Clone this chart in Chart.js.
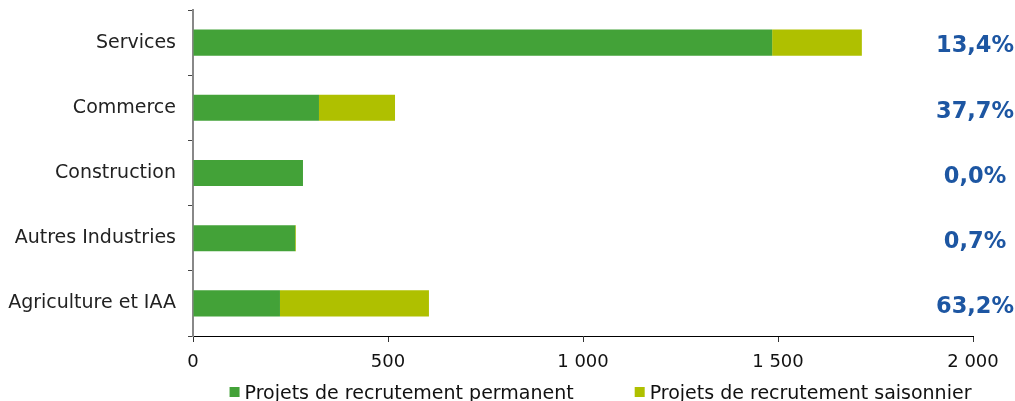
<!DOCTYPE html>
<html>
<head>
<meta charset="utf-8">
<script src="https://cdn.jsdelivr.net/npm/chart.js@4"></script>
<style>
  html, body { margin: 0; padding: 0; background: #fff; overflow: hidden; }
  #wrap { width: 1015px; height: 401px; position: relative; }
</style>
</head>
<body>
<div id="wrap"><canvas id="chart"></canvas></div>
<script>
const categories = ["Services", "Commerce", "Construction", "Autres Industries", "Agriculture et IAA"];
const permanent = [1485, 323, 282, 262, 223];
const saisonnier = [230, 195, 0, 2, 382];
const shareLabels = ["13,4%", "37,7%", "0,0%", "0,7%", "63,2%"];

// pourcentages a droite + legende en bas
const extras = {
  id: "extras",
  afterDraw(chart) {
    const ctx = chart.ctx;
    const y = chart.scales.y;
    ctx.save();
    ctx.font = "bold 22.5px 'DejaVu Sans'";
    ctx.fillStyle = "#1d56a2";
    ctx.textAlign = "center";
    ctx.textBaseline = "middle";
    shareLabels.forEach((t, i) => {
      ctx.fillText(t, 975, y.getPixelForValue(i) + 4);
    });

    ctx.font = "19px 'DejaVu Sans'";
    ctx.textAlign = "left";
    ctx.textBaseline = "alphabetic";
    const sets = chart.data.datasets;
    const widths = sets.map(d => 15 + ctx.measureText(d.label).width);
    const total = widths.reduce((a, b) => a + b, 0) + 61 * (sets.length - 1);
    let x = 600.5 - total / 2;
    sets.forEach((d, i) => {
      ctx.fillStyle = d.backgroundColor;
      ctx.fillRect(x, 387, 10, 10);
      ctx.fillStyle = "#111";
      ctx.fillText(d.label, x + 15, 399);
      x += widths[i] + 61;
    });
    ctx.restore();
  }
};

new Chart(document.getElementById("chart").getContext("2d"), {
  type: "bar",
  data: {
    labels: categories,
    datasets: [
      {
        label: "Projets de recrutement permanent",
        data: permanent,
        backgroundColor: "#43a238",
        categoryPercentage: 1,
        barPercentage: 0.4,
      },
      {
        label: "Projets de recrutement saisonnier",
        data: saisonnier,
        backgroundColor: "#afc000",
        categoryPercentage: 1,
        barPercentage: 0.4,
      },
    ],
  },
  options: {
    indexAxis: "y",
    responsive: true,
    maintainAspectRatio: false,
    animation: false,
    layout: { padding: { top: 10, right: 42, left: 0, bottom: 0 } },
    plugins: {
      tooltip: { enabled: false },
      legend: { display: false },
    },
    scales: {
      x: {
        stacked: true,
        min: 0,
        max: 2000,
        ticks: {
          stepSize: 500,
          color: "#111",
          padding: 10,
          font: { family: "'DejaVu Sans'", size: 18 },
          callback: v => v.toLocaleString("fr-FR").replace(/\s/g, " "),
        },
        grid: { drawOnChartArea: false, tickLength: 6, color: "#333" },
        border: { color: "#000", width: 1 },
        afterFit(scale) { scale.height = 65; },
      },
      y: {
        stacked: true,
        ticks: {
          color: "#222",
          padding: 12,
          font: { family: "'DejaVu Sans'", size: 19 },
        },
        grid: { drawOnChartArea: false, tickLength: 5, color: "#444", offset: true },
        border: { color: "#888", width: 2 },
        afterFit(scale) {
          scale.width = 193;
          scale.paddingTop = 0;
          scale.paddingBottom = 0;
        },
      },
    },
  },
  plugins: [extras],
});
</script>
</body>
</html>
